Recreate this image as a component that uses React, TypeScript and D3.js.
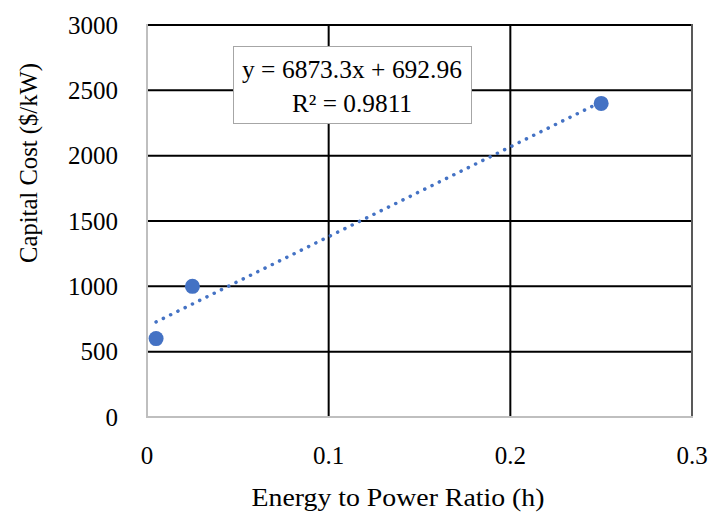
import React from 'react';
import * as d3 from 'd3';

// data
const ratio = [0.005, 0.025, 0.25];
const cost = [600, 1000, 2400];
const xTicks = [0, 0.1, 0.2, 0.3];
const yTicks = [0, 500, 1000, 1500, 2000, 2500, 3000];
const slope = 6873.3;
const intercept = 692.96;
const rSquared = 0.9811;

const W = 708, H = 513;
const margin = { top: 25, right: 16, bottom: 96, left: 147 };
const font = "'Liberation Serif', 'Times New Roman', serif";
const blue = '#4472C4';

export default function App() {
  const x = d3.scaleLinear().domain([0, 0.3]).range([margin.left, W - margin.right]);
  const y = d3.scaleLinear().domain([0, 3000]).range([H - margin.bottom, margin.top]);

  const trend = d3.line<number>()
    .x(d => x(d))
    .y(d => y(slope * d + intercept));
  const xFirst = ratio[0], xLast = ratio[ratio.length - 1];

  return (
    <div style={{ position: 'absolute', left: 0, top: 0 }}>
      <svg width={W} height={H} style={{ background: '#fff', display: 'block' }}>
        {/* horizontal gridlines */}
        {yTicks.filter(t => t > 0).map(t => (
          <line key={'h' + t} x1={x(0)} x2={x(0.3)} y1={y(t)} y2={y(t)} stroke="#000" strokeWidth={2} />
        ))}
        {/* vertical gridlines */}
        {xTicks.filter(t => t > 0 && t < 0.3).map(t => (
          <line key={'v' + t} x1={x(t)} x2={x(t)} y1={y(0)} y2={y(3000)} stroke="#000" strokeWidth={2} />
        ))}
        <line x1={x(0.3)} x2={x(0.3)} y1={y(0)} y2={y(3000) - 1} stroke="#595959" strokeWidth={2} />
        {/* axis lines */}
        <line x1={x(0)} x2={x(0)} y1={y(0)} y2={y(3000) - 1} stroke="#bfbfbf" strokeWidth={2} />
        <line x1={x(0) - 1} x2={x(0.3) + 1} y1={y(0)} y2={y(0)} stroke="#bfbfbf" strokeWidth={2} />

        {/* tick labels */}
        {yTicks.map(t => (
          <text key={'yl' + t} x={118} y={y(t)} dy="0.35em" textAnchor="end"
            fontFamily={font} fontSize={25} fill="#000">{t}</text>
        ))}
        {xTicks.map(t => (
          <text key={'xl' + t} x={x(t)} y={464} textAnchor="middle"
            fontFamily={font} fontSize={25} fill="#000">{d3.format('~g')(t)}</text>
        ))}

        {/* axis titles */}
        <text x={398} y={506} textAnchor="middle" fontFamily={font} fontSize={26} fill="#000"
          textLength={293} lengthAdjust="spacingAndGlyphs">Energy to Power Ratio (h)</text>
        <text transform="translate(37,163) rotate(-90)" textAnchor="middle" fontFamily={font}
          fontSize={26} fill="#000" textLength={200} lengthAdjust="spacingAndGlyphs">Capital Cost ($/kW)</text>

        {/* trendline */}
        <path d={trend([xFirst, xLast]) || ''} fill="none" stroke={blue} strokeWidth={3.5}
          strokeLinecap="round" strokeDasharray="0.1 8" />

        {/* points */}
        {ratio.map((r, i) => (
          <circle key={'p' + i} cx={x(r)} cy={y(cost[i])} r={7.5} fill={blue} />
        ))}

        {/* equation label */}
        <rect x={233.5} y={46.5} width={238} height={77} fill="#fff" stroke="#a6a6a6" strokeWidth={1} />
        <text x={352} y={78} textAnchor="middle" fontFamily={font} fontSize={25} fill="#000"
          textLength={220} lengthAdjust="spacingAndGlyphs">{`y = ${slope}x + ${intercept}`}</text>
        <text x={352} y={112} textAnchor="middle" fontFamily={font} fontSize={25} fill="#000"
          textLength={120} lengthAdjust="spacingAndGlyphs">{`R² = ${rSquared}`}</text>
      </svg>
    </div>
  );
}
